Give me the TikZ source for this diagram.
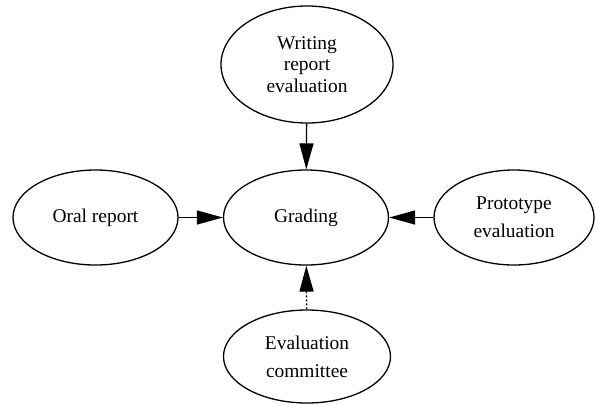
\documentclass[tikz,border=0pt]{standalone}
\usepackage{fontspec}
\setmainfont{Liberation Serif}
\usetikzlibrary{shapes.geometric,arrows.meta}
\tikzset{
  ell/.style={draw, ellipse, line width=1.3bp, inner sep=0pt, align=center,
    font=\fontsize{19.5}{21.5}\selectfont},
  edge/.style={line width=1.3bp, -{Triangle[length=26bp,width=14bp]}},
  dotedge/.style={edge, dash pattern=on 2bp off 2bp}
}
\begin{document}
\begin{tikzpicture}[x=1bp,y=-1bp]
\useasboundingbox (0,0) rectangle (595,405);
\node[ell, minimum width=172bp, minimum height=117bp] (write) at (307,64.5) {Writing\\report\\evaluation};
\node[ell, minimum width=165bp, minimum height=95bp] (grade) at (306,217.5) {Grading};
\node[ell, minimum width=165bp, minimum height=95bp] (oral) at (95.5,217.5) {Oral report};
\node[ell, minimum width=160bp, minimum height=95bp, font=\fontsize{19.5}{28}\selectfont] (proto) at (514,217.5) {Prototype\\evaluation};
\node[ell, minimum width=167bp, minimum height=93bp, font=\fontsize{19.5}{28}\selectfont] (comm) at (307,356.5) {Evaluation\\committee};
\draw[edge] (write) -- (grade);
\draw[edge] (oral) -- (grade);
\draw[edge] (proto) -- (grade);
\draw[dotedge] (comm) -- (grade);
\end{tikzpicture}
\end{document}
